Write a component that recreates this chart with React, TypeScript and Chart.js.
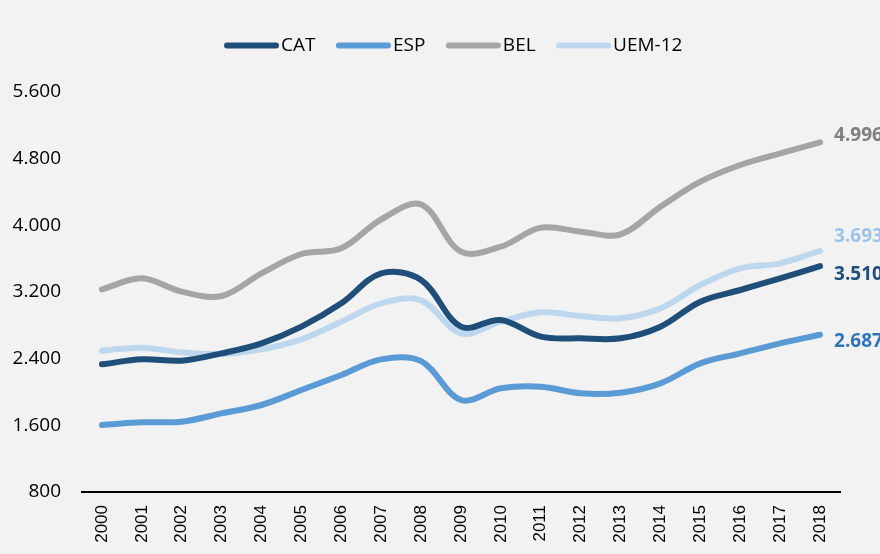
import React, { useEffect, useRef } from "react";
import { Chart, registerables } from "chart.js";

Chart.register(...registerables);

// ---- Data ----
const years = ["2000","2001","2002","2003","2004","2005","2006","2007","2008","2009","2010","2011","2012","2013","2014","2015","2016","2017","2018"];
const catValues = [2332, 2392, 2376, 2464, 2584, 2784, 3064, 3424, 3344, 2784, 2864, 2664, 2644, 2644, 2784, 3084, 3224, 3364, 3510];
const espValues = [1604, 1636, 1644, 1744, 1844, 2024, 2204, 2392, 2370, 1904, 2044, 2064, 1984, 1992, 2104, 2344, 2464, 2584, 2687];
const belValues = [3232, 3364, 3204, 3152, 3424, 3656, 3724, 4072, 4250, 3684, 3744, 3972, 3924, 3892, 4224, 4524, 4724, 4864, 4996];
const uemValues = [2496, 2532, 2476, 2456, 2512, 2632, 2844, 3064, 3100, 2704, 2844, 2956, 2912, 2884, 3004, 3284, 3484, 3544, 3693];
const seriesNames = ["CAT", "ESP", "BEL", "UEM-12"];
const yTicks = [800, 1600, 2400, 3200, 4000, 4800, 5600];

// ---- Styles ----
const lineColors = ["#1F4E79", "#5B9BD5", "#A5A5A5", "#BDD7EE"];
const endLabelColors = ["#1F4E79", "#2E75B6", "#7F7F7F", "#9DC3E6"];
const endLabelDy = [8, 7, -7, -14];
const BG = "#F2F2F2";
const FONT = "'Open Sans', 'Liberation Sans', sans-serif";
const LEGEND_LEFT = 224;
const LEGEND_Y = 45.5;

const fmt = (v: number) => String(Math.round(v)).replace(/\B(?=(\d{3})+(?!\d))/g, ".");

const bgPlugin = {
  id: "bg",
  beforeDraw(chart: any) {
    const ctx = chart.ctx;
    ctx.save();
    ctx.fillStyle = BG;
    ctx.fillRect(0, 0, chart.width, chart.height);
    ctx.restore();
  },
};

const legendPlugin = {
  id: "customLegend",
  afterDraw(chart: any) {
    const ctx = chart.ctx;
    ctx.save();
    ctx.font = `19px ${FONT}`;
    ctx.textBaseline = "middle";
    ctx.textAlign = "left";
    let x = LEGEND_LEFT;
    chart.data.datasets.forEach((ds: any) => {
      ctx.strokeStyle = ds.borderColor;
      ctx.lineWidth = 6;
      ctx.lineCap = "round";
      ctx.beginPath();
      ctx.moveTo(x + 3, LEGEND_Y);
      ctx.lineTo(x + 52, LEGEND_Y);
      ctx.stroke();
      ctx.fillStyle = "#000000";
      ctx.fillText(ds.label, x + 57, LEGEND_Y);
      const w = ctx.measureText(ds.label).width;
      x += 57 + w + 20.5;
    });
    ctx.restore();
  },
};

const endLabelPlugin = {
  id: "endLabels",
  afterDatasetsDraw(chart: any) {
    const ctx = chart.ctx;
    ctx.save();
    ctx.font = `bold 19px ${FONT}`;
    ctx.textBaseline = "middle";
    ctx.textAlign = "left";
    chart.data.datasets.forEach((ds: any, i: number) => {
      const meta = chart.getDatasetMeta(i);
      const pt = meta.data[meta.data.length - 1];
      const v = ds.data[ds.data.length - 1];
      ctx.fillStyle = endLabelColors[i];
      ctx.fillText(fmt(v), pt.x + 14, pt.y + endLabelDy[i]);
    });
    ctx.restore();
  },
};

export default function App() {
  const ref = useRef<HTMLCanvasElement | null>(null);
  useEffect(() => {
    if (!ref.current) return;
    const allSeries = [catValues, espValues, belValues, uemValues];
    const chart = new Chart(ref.current, {
      type: "line",
      data: {
        labels: years,
        datasets: allSeries.map((vals, i) => ({
          label: seriesNames[i],
          data: vals,
          borderColor: lineColors[i],
          backgroundColor: lineColors[i],
          borderWidth: 6,
          borderCapStyle: "round",
          borderJoinStyle: "round",
          pointRadius: 0,
          pointHoverRadius: 0,
          tension: 0.35,
          fill: false,
        })),
      },
      options: {
        animation: false,
        responsive: false,
        maintainAspectRatio: false,
        events: [],
        layout: { padding: { top: 92, right: 40, bottom: 0, left: 0 } },
        plugins: {
          legend: { display: false },
          tooltip: { enabled: false },
        },
        scales: {
          x: {
            type: "category",
            offset: true,
            grid: { display: false, drawTicks: false },
            border: { display: true, color: "#000000", width: 2 },
            ticks: {
              color: "#000000",
              font: { family: "'Liberation Sans', Arial, sans-serif", size: 17 },
              minRotation: 90,
              maxRotation: 90,
              padding: 13,
              autoSkip: false,
            },
            afterFit: (s: any) => { s.height = 62; },
          },
          y: {
            min: 800,
            max: 5600,
            afterBuildTicks: (s: any) => { s.ticks = yTicks.map((v) => ({ value: v })); },
            grid: { display: false, drawTicks: false },
            border: { display: false },
            ticks: {
              color: "#000000",
              font: { family: FONT, size: 19 },
              padding: 21,
              callback: (v: any) => fmt(Number(v)),
            },
            afterFit: (s: any) => { s.width = 82; },
          },
        },
      },
      plugins: [bgPlugin, legendPlugin, endLabelPlugin],
    } as any);
    return () => chart.destroy();
  }, []);
  return (
    <div style={{ position: "absolute", left: 0, top: 0, width: 880, height: 554, background: BG }}>
      <canvas ref={ref} width={880} height={554} style={{ display: "block", width: 880, height: 554 }} />
    </div>
  );
}
